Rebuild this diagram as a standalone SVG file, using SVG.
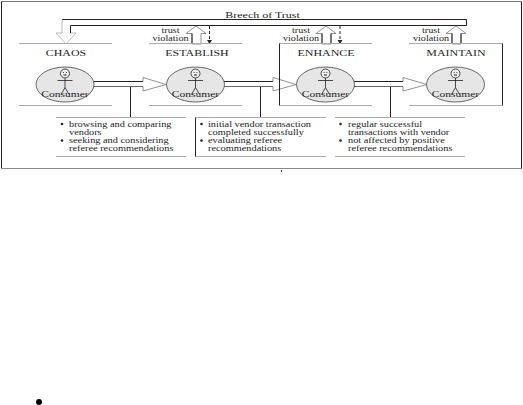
<svg xmlns="http://www.w3.org/2000/svg" width="523" height="405" viewBox="0 0 523 405">
<defs>
<g id="person" fill="none" stroke="#222" stroke-width="0.8">
<circle cx="0" cy="-11" r="4.5" fill="#eee"/>
<path d="M-1.8 -12H-1M1 -12H1.8M-1.5 -9.5H1.5" stroke-width="1"/>
<path d="M0 -6.5V3M-7.500 -4H7.500M0 3L-4 10M0 3L4 10"/>
</g>
<g id="actor">
<ellipse cx="0" cy="0" rx="29" ry="17.500" fill="#e6e6e6" stroke="#444" stroke-width="0.800"/>
<use href="#person"/>
<g transform="scale(1.28 1)"><text x="0" y="13" class="c">Consumer</text></g>
</g>
</defs>
<style>
.t{font-family:"Liberation Serif",serif;fill:#222;font-size:8px}
.v{font-family:"Liberation Serif",serif;fill:#222;font-size:8px;text-anchor:middle}
.c{font-family:"Liberation Serif",serif;fill:#222;font-size:9px;text-anchor:middle}
.h{font-family:"Liberation Serif",serif;fill:#222;font-size:9px;text-anchor:middle}
.g{stroke:#aaa;stroke-width:1;fill:none}
.k{stroke:#222;stroke-width:1;fill:none}
.a{fill:#fff;stroke:#777;stroke-width:0.800}
</style>
<rect width="523" height="405" fill="#fff"/>
<g id="frame">
<path d="M1.500 1.500H521.500" class="g" style="stroke:#777"/>
<path d="M1.500 1.500V168.500" class="k"/>
<path d="M1.500 168.500H521.500" class="g" style="stroke:#888"/>
<path d="M521.500 1.500V168.500" class="k"/>
</g>
<g id="connectors">
<path d="M62 19.500H466.500V25.500H70.500" class="k"/>
<path d="M62 19.500V33H56L66 44L76 33H70.500V25.500" fill="#fff" stroke="none"/>
<path d="M62 20V33H56L66 44L76 33H70.500" fill="none" stroke="#aaa" stroke-width="0.800"/>
<path d="M70.500 25.500V33" class="k"/>
<path d="M186 33.500L196 26L206 33.500H201V44H192V33.500Z" class="a"/><path d="M192 33.500V44" class="k"/>
<path d="M316 33.500L326 26L336 33.500H331V44H322V33.500Z" class="a"/><path d="M322 33.500V44M331 33.500V44" class="k"/>
<path d="M446 33.500L456 26L466 33.500H461V44H452V33.500Z" class="a"/><path d="M452 33.500V44M461 33.500V44" class="k"/>
<path d="M209.500 26V40" class="k" stroke-dasharray="3 2"/><path d="M207 40H212L209.500 44Z" fill="#222"/>
<path d="M340 26V40" class="k" stroke-dasharray="3 2"/><path d="M337.500 40H342.500L340 44Z" fill="#222"/>
<g id="blockArrows">
<path d="M94 81H143V77.500L166 84.500L143 91V86.500H94Z" fill="#fff" stroke="none"/>
<path d="M94 81.500H143" class="k"/><path d="M94 86.500H143" class="k" style="stroke:#666"/><path d="M143 81.500V77.500L166 84.500L143 91V86.500" class="a" style="fill:none"/>
<path d="M224 81H273V77.500L296 84.500L273 91V86.500H224Z" fill="#fff" stroke="none"/>
<path d="M224 81.500H273" class="k"/><path d="M224 86.500H273" class="k" style="stroke:#666"/><path d="M273 81.500V77.500L296 84.500L273 91V86.500" class="a" style="fill:none"/>
<path d="M354 81H403V77.500L427 84.500L403 91V86.500H354Z" fill="#fff" stroke="none"/>
<path d="M354 81.500H403" class="k"/><path d="M354 86.500H403" class="k" style="stroke:#666"/><path d="M403 81.500V77.500L427 84.500L403 91V86.500" class="a" style="fill:none"/>
</g>
<path d="M130.500 87V117M260.500 87V117M390.500 87V117" class="k"/>
</g>
<g id="chaos">
<path d="M19 43.500H112M19 105.500H112" class="g"/>
<g transform="translate(66 0) scale(1.33 1)"><text x="0" y="56" class="h">CHAOS</text></g>
<use href="#actor" x="65" y="84.500"/>
</g>
<g id="establish">
<path d="M149 43.500H242M149 105.500H242" class="g"/>
<g transform="translate(197 0) scale(1.33 1)"><text x="0" y="56" class="h">ESTABLISH</text></g>
<use href="#actor" x="195.500" y="84.500"/>
<g transform="translate(170.500 0) scale(1.27 1)"><text x="0" y="33" class="v">trust</text><text x="0" y="41" class="v">violation</text></g>
</g>
<g id="enhance">
<path d="M279.500 43.500H372M279.500 105.500H372" class="g"/>
<path d="M279.500 43.500V105.500" class="k"/>
<g transform="translate(326 0) scale(1.33 1)"><text x="0" y="56" class="h">ENHANCE</text></g>
<use href="#actor" x="325.500" y="84.500"/>
<g transform="translate(301 0) scale(1.27 1)"><text x="0" y="33" class="v">trust</text><text x="0" y="41" class="v">violation</text></g>
</g>
<g id="maintain">
<path d="M409 43.500H502.500M409 105.500H502.500" class="g"/>
<path d="M502.500 43.500V105.500" class="k"/>
<g transform="translate(456 0) scale(1.33 1)"><text x="0" y="56" class="h">MAINTAIN</text></g>
<use href="#actor" x="455.500" y="84.500"/>
<g transform="translate(431 0) scale(1.27 1)"><text x="0" y="33" class="v">trust</text><text x="0" y="41" class="v">violation</text></g>
</g>
<g id="breach"><g transform="translate(262.500 0) scale(1.33 1)"><text x="0" y="18" class="h">Breech of Trust</text></g></g>
<g id="box1">
<path d="M56 117.500H186M56 156.500H186" class="g"/>
<circle cx="62" cy="124" r="1.300" fill="#222"/><circle cx="62" cy="140.500" r="1.300" fill="#222"/>
<g transform="translate(69 0) scale(1.29 1)">
<text x="0" y="127" class="t">browsing and comparing</text>
<text x="0" y="135" class="t">vendors</text>
<text x="0" y="143" class="t">seeking and considering</text>
<text x="0" y="151" class="t">referee recommendations</text>
</g>
</g>
<g id="box2">
<path d="M195.500 117.500H326M195.500 156.500H326" class="g"/>
<path d="M195.500 117.500V156.500" class="k"/>
<circle cx="201.500" cy="124" r="1.300" fill="#222"/><circle cx="201.500" cy="140.500" r="1.300" fill="#222"/>
<g transform="translate(208 0) scale(1.29 1)">
<text x="0" y="127" class="t">initial vendor transaction</text>
<text x="0" y="135" class="t">completed successfully</text>
<text x="0" y="143" class="t">evaluating referee</text>
<text x="0" y="151" class="t">recommendations</text>
</g>
</g>
<g id="box3">
<path d="M335 117.500H465M335 156.500H465" class="g"/>
<circle cx="340.500" cy="124" r="1.300" fill="#222"/><circle cx="340.500" cy="140.500" r="1.300" fill="#222"/>
<g transform="translate(348 0) scale(1.29 1)">
<text x="0" y="127" class="t">regular successful</text>
<text x="0" y="135" class="t">transactions with vendor</text>
<text x="0" y="143" class="t">not affected by positive</text>
<text x="0" y="151" class="t">referee recommendations</text>
</g>
</g>
<path d="M281.500 170V172" stroke="#333" stroke-width="1"/>
<circle cx="39" cy="402" r="3" fill="#000"/>
</svg>
